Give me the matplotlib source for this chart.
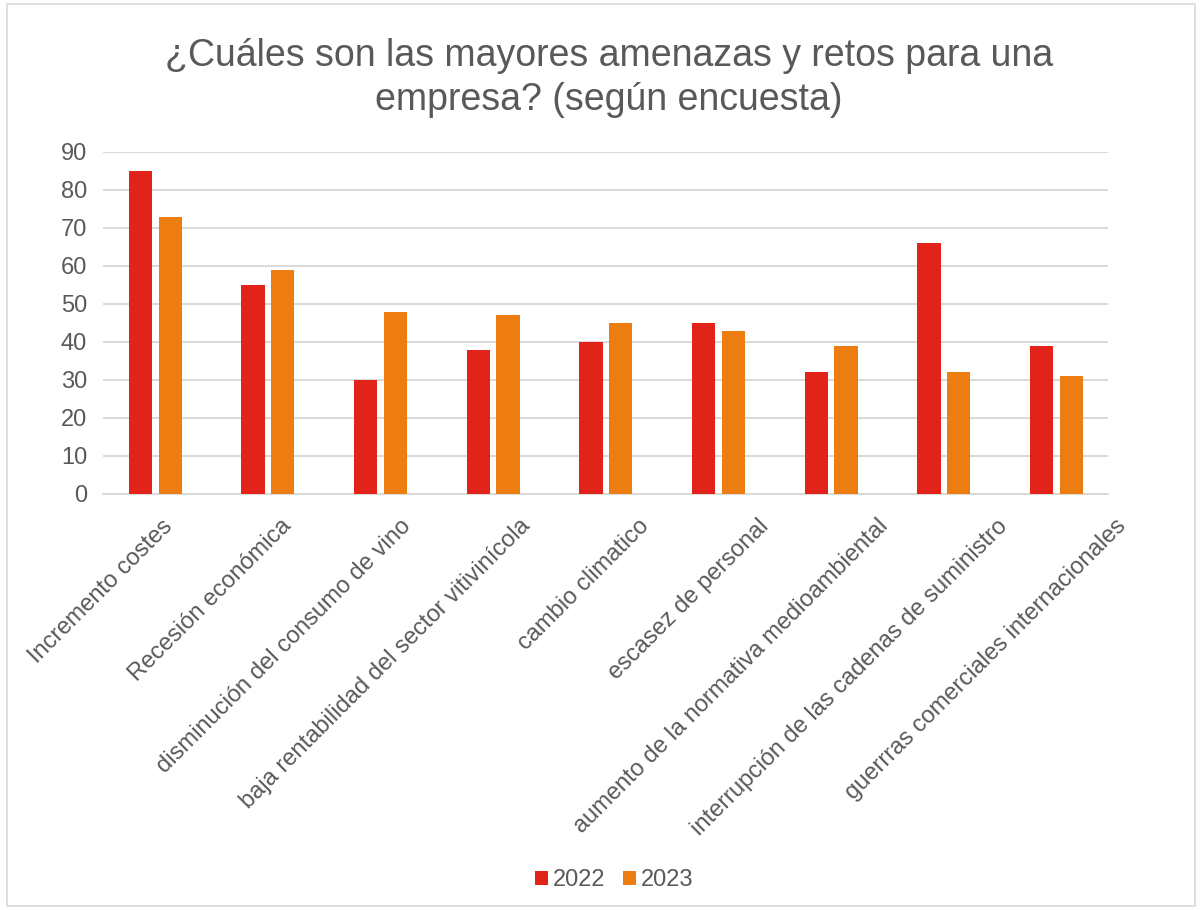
import matplotlib
matplotlib.use("Agg")
import matplotlib.pyplot as plt
import matplotlib.transforms as mtransforms
from matplotlib.patches import Rectangle
import numpy as np

categories = ["Incremento costes", "Recesión económica", "disminución del consumo de vino",
              "baja rentabilidad del sector vitivinícola", "cambio climatico", "escasez de personal",
              "aumento de la normativa medioambiental", "interrupción de las cadenas de suministro",
              "guerrras comerciales internacionales"]
v2022 = [85, 55, 30, 38, 40, 45, 32, 66, 39]
v2023 = [73, 59, 48, 47, 45, 43, 39, 32, 31]
series_names = ["2022", "2023"]
yticks = [0, 10, 20, 30, 40, 50, 60, 70, 80, 90]

plt.rcParams['font.family'] = ['Liberation Sans', 'DejaVu Sans']
TXT = '#595959'
RED = '#e2231a'
ORANGE = '#ee7d11'
GRID = '#d9d9d9'

W, H = 1202, 910
fig = plt.figure(figsize=(W / 100, H / 100), dpi=100)
ax = fig.add_axes([103 / W, 1 - 494 / H, 1005 / W, 342 / H])

x = np.arange(len(categories))
w = 0.207
off = 0.2645
ax.bar(x - off / 2, v2022, width=w, color=RED, label=series_names[0], zorder=3)
ax.bar(x + off / 2, v2023, width=w, color=ORANGE, label=series_names[1], zorder=3)

ax.set_xlim(-0.464, len(categories) - 1 + 0.457)
ax.set_ylim(0, 90)
ax.set_yticks(yticks)
ax.yaxis.grid(True, color=GRID, linewidth=1.4, zorder=0)
ax.set_axisbelow(True)
for s in ['top', 'right', 'left']:
    ax.spines[s].set_visible(False)
ax.spines['bottom'].set_color(GRID)
ax.spines['bottom'].set_linewidth(1.4)
ax.tick_params(axis='both', length=0, labelsize=17, colors=TXT)
ax.tick_params(axis='y', pad=11.5)
ax.tick_params(axis='x', pad=0)

ax.set_xticks(x)
ax.set_xticklabels(categories, rotation=45, ha='right', va='center', rotation_mode='anchor')
for i, lbl in enumerate(ax.get_xticklabels()):
    dx = 13.7 + 6.6 * i
    offset = mtransforms.ScaledTranslation(dx / 100, -29 / 100, fig.dpi_scale_trans)
    lbl.set_transform(lbl.get_transform() + offset)

fig.text(609 / W, 1 - 38 / H, "¿Cuáles son las mayores amenazas y retos para una\nempresa? (según encuesta)",
         ha='center', va='top', fontsize=27, color=TXT, linespacing=1.28)

leg = fig.legend(loc='center', bbox_to_anchor=(614 / W, 1 - 880 / H), ncol=2, frameon=False,
                 fontsize=17, handlelength=0.55, handleheight=0.55, handletextpad=0.21,
                 columnspacing=0.76, labelcolor=TXT)

fig.patches.append(Rectangle((7 / W, 4 / H), 1188 / W, 902 / H, transform=fig.transFigure,
                             fill=False, edgecolor=GRID, linewidth=1.2))

fig.savefig('out.png', dpi=100, facecolor='white')
